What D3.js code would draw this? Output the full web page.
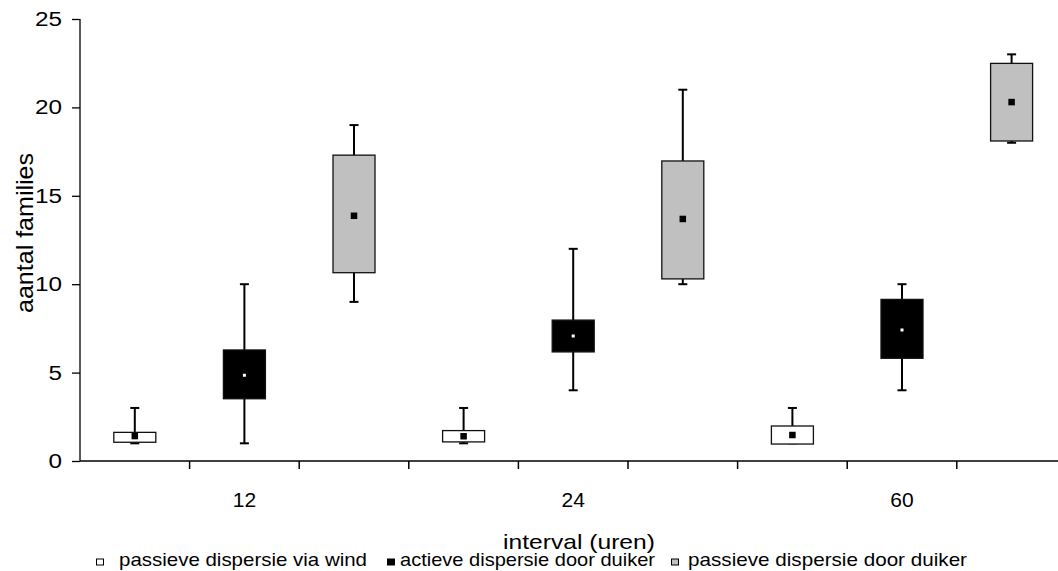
<!DOCTYPE html>
<html>
<head>
<meta charset="utf-8">
<script src="https://cdn.jsdelivr.net/npm/d3@7"></script>
<style>
  body { margin: 0; background: #fff; }
  svg { display: block; font-family: "Liberation Sans", Arial, sans-serif; }
</style>
</head>
<body>
<svg id="chart" width="1058" height="571"></svg>
<script>
// intervals on the x axis
const groups = ["12", "24", "60"];
// the three dispersal types
const series = ["passieve dispersie via wind", "actieve dispersie door duiker", "passieve dispersie door duiker"];
const fills = ["#ffffff", "#000000", "#c0c0c0"];
const markFills = ["#000000", "#ffffff", "#000000"];

// values, [series][group]
const whiskerLow  = [[1.0, 1.0, 1.0], [1.0, 4.0, 4.0], [9.0, 10.0, 18.0]];
const boxLow      = [[1.06, 1.08, 0.96], [3.52, 6.17, 5.81], [10.65, 10.3, 18.1]];
const boxHigh     = [[1.62, 1.72, 1.98], [6.28, 7.97, 9.14], [17.3, 16.97, 22.49]];
const whiskerHigh = [[3.0, 3.0, 3.0], [10.0, 12.0, 10.0], [19.0, 21.0, 23.0]];
const means       = [[1.41, 1.4, 1.47], [4.85, 7.07, 7.41], [13.87, 13.69, 20.3]];
const yTicks = [0, 5, 10, 15, 20, 25];

const svg = d3.select("#chart");
const x0 = 80, slotW = 109.6;

// one slot per group+series
const slots = [];
groups.forEach((g, gi) => series.forEach((s, si) => slots.push({g: gi, s: si, key: g + "|" + si})));

const x = d3.scaleBand().domain(slots.map(d => d.key)).range([x0, x0 + slotW * slots.length]).padding(0);
const y = d3.scaleLinear().domain([0, 25]).range([461, 19]);

// y axis (labels drawn a bit wide, like the original)
const yAxis = svg.append("g").attr("transform", `translate(${x0},0)`)
  .call(d3.axisLeft(y).tickValues(yTicks).tickSize(8).tickPadding(10));
yAxis.selectAll("text").style("font-size", "20px").attr("fill", "#000")
  .attr("textLength", d => String(d).length * 13.5).attr("lengthAdjust", "spacingAndGlyphs");
yAxis.selectAll("line, path").attr("stroke", "#000").attr("stroke-width", 1.3);
yAxis.select("path").attr("d", `M0,${y(25)}V${y(0)}`);

// x axis line + slot boundary ticks
const xg = svg.append("g");
xg.append("line").attr("x1", x0).attr("x2", 1058).attr("y1", y(0)).attr("y2", y(0)).attr("stroke", "#000").attr("stroke-width", 1.3);
xg.selectAll("line.tk").data(slots.slice(1)).enter().append("line")
  .attr("class", "tk")
  .attr("x1", d => x(d.key)).attr("x2", d => x(d.key))
  .attr("y1", y(0)).attr("y2", y(0) + 8)
  .attr("stroke", "#000").attr("stroke-width", 1.5);
xg.selectAll("text").data(groups).enter().append("text")
  .attr("x", (d, i) => x(d + "|1") + x.bandwidth() / 2)
  .attr("y", 507)
  .attr("text-anchor", "middle")
  .style("font-size", "21px")
  .text(d => d);

// titles
svg.append("text").attr("x", 579).attr("y", 549).attr("text-anchor", "middle")
  .style("font-size", "21px").attr("textLength", 152).attr("lengthAdjust", "spacingAndGlyphs").text("interval (uren)");
svg.append("text").attr("transform", `translate(33,233) rotate(-90)`)
  .attr("text-anchor", "middle").style("font-size", "24px")
  .attr("textLength", 160).attr("lengthAdjust", "spacingAndGlyphs").text("aantal families");

// boxes
const boxW = 42, capW = 9;
const bx = svg.append("g");
slots.forEach(d => {
  const cx = x(d.key) + x.bandwidth() / 2;
  const lo = whiskerLow[d.s][d.g], q1 = boxLow[d.s][d.g], q3 = boxHigh[d.s][d.g], hi = whiskerHigh[d.s][d.g];
  const g = bx.append("g");
  // whiskers
  g.append("line").attr("x1", cx).attr("x2", cx).attr("y1", y(hi)).attr("y2", y(q3)).attr("stroke", "#000").attr("stroke-width", 2);
  g.append("line").attr("x1", cx).attr("x2", cx).attr("y1", y(q1)).attr("y2", y(lo)).attr("stroke", "#000").attr("stroke-width", 2);
  g.append("line").attr("x1", cx - capW / 2).attr("x2", cx + capW / 2).attr("y1", y(hi)).attr("y2", y(hi)).attr("stroke", "#000").attr("stroke-width", 2);
  g.append("line").attr("x1", cx - capW / 2).attr("x2", cx + capW / 2).attr("y1", y(lo)).attr("y2", y(lo)).attr("stroke", "#000").attr("stroke-width", 2);
  // box
  g.append("rect").attr("x", cx - boxW / 2).attr("y", y(q3)).attr("width", boxW).attr("height", y(q1) - y(q3))
    .attr("fill", fills[d.s]).attr("stroke", "#111").attr("stroke-width", 1.3);
  // mean marker
  const m = d.s == 1 ? 3 : 6.5;
  g.append("rect").attr("x", cx - m / 2).attr("y", y(means[d.s][d.g]) - m / 2).attr("width", m).attr("height", m)
    .attr("fill", markFills[d.s]);
});

// legend
const legMark = [100, 391, 675];
const legText = [119, 400, 688];
const legTextW = [248, 255, 279];
const lg = svg.append("g");
series.forEach((s, i) => {
  lg.append("rect").attr("x", legMark[i] - 3.5).attr("y", 559).attr("width", 7).attr("height", 6)
    .attr("fill", fills[i]).attr("stroke", "#000").attr("stroke-width", 1);
  lg.append("text").attr("x", legText[i]).attr("y", 566)
    .style("font-size", "19px").attr("textLength", legTextW[i]).attr("lengthAdjust", "spacingAndGlyphs").text(s);
});
</script>
</body>
</html>
